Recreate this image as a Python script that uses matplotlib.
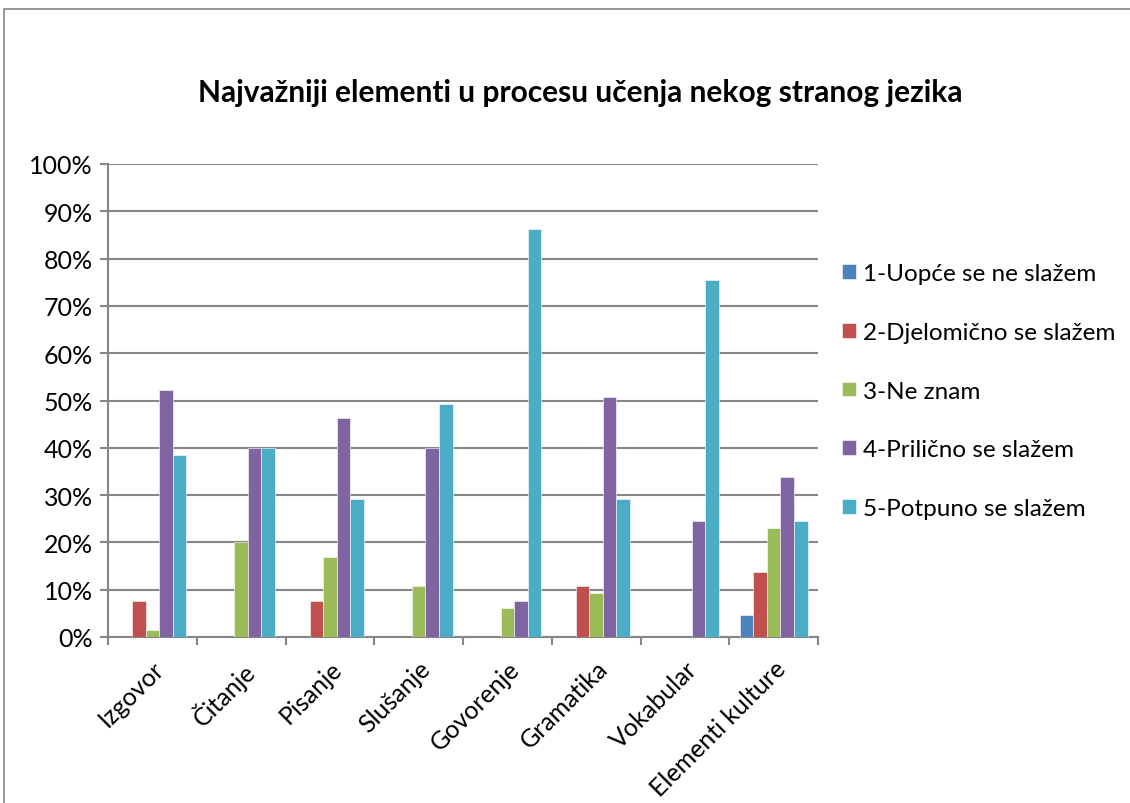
import matplotlib.pyplot as plt
from matplotlib.patches import Rectangle
import numpy as np

plt.rcParams['font.family'] = ['Lato', 'DejaVu Sans']

# Data (percent of respondents)
categories = ["Izgovor", "Čitanje", "Pisanje", "Slušanje", "Govorenje",
              "Gramatika", "Vokabular", "Elementi kulture"]
series_names = ["1-Uopće se ne slažem", "2-Djelomično se slažem", "3-Ne znam",
                "4-Prilično se slažem", "5-Potpuno se slažem"]
s1 = [0, 0, 0, 0, 0, 0, 0, 4.6]
s2 = [7.7, 0, 7.7, 0, 0, 10.8, 0, 13.8]
s3 = [1.5, 20.0, 16.9, 10.8, 6.2, 9.2, 0, 23.1]
s4 = [52.3, 40.0, 46.2, 40.0, 7.7, 50.8, 24.6, 33.8]
s5 = [38.5, 40.0, 29.2, 49.2, 86.2, 29.2, 75.4, 24.6]
series = [s1, s2, s3, s4, s5]
colors = ["#4F81BD", "#C0504D", "#9BBB59", "#8064A2", "#4BACC6"]

fig = plt.figure(figsize=(11.3, 8.04), dpi=100)
ax = fig.add_axes([108 / 1130, 1 - 638 / 804, 710 / 1130, 473 / 804])

# Outer chart border
fig.patches.append(Rectangle((4 / 1130, -0.05), 1.2, 1 - 10 / 804 + 0.05,
                             transform=fig.transFigure, fill=False,
                             edgecolor="#868686", linewidth=1.2))

x = np.arange(len(categories))
w = 0.153
for i, (vals, name, c) in enumerate(zip(series, series_names, colors)):
    ax.bar(x + (i - 2) * w, vals, width=w, color=c, label=name,
           edgecolor="white", linewidth=0.4, zorder=3)

ax.set_xlim(-0.5, len(categories) - 0.5)
ax.set_ylim(0, 100)
ax.set_yticks(np.arange(0, 101, 10))
ax.set_yticklabels([f"{v}%" for v in range(0, 101, 10)], fontsize=18)
ax.yaxis.grid(True, color="#868686", linewidth=1.5, zorder=0)

ax.set_xticks(np.arange(-0.5, len(categories), 1))
ax.set_xticklabels([])
ax.set_xticks(x, minor=True)
ax.set_xticklabels(categories, minor=True, rotation=45, ha="right",
                   rotation_mode="anchor", fontsize=18)
ax.tick_params(axis="x", which="minor", length=0, pad=14)
ax.tick_params(axis="x", which="major", length=6, color="#868686", width=1.5)
ax.tick_params(axis="y", length=6, color="#868686", width=1.5, pad=5)

for s in ["top", "right"]:
    ax.spines[s].set_visible(False)
for s in ["left", "bottom"]:
    ax.spines[s].set_color("#868686")
    ax.spines[s].set_linewidth(1.5)

fig.text(580 / 1130, 1 - 93 / 804, "Najvažniji elementi u procesu učenja nekog stranog jezika",
         ha="center", va="center", fontsize=21.5, fontweight="bold")

ax.legend(loc="center left", bbox_to_anchor=(1.0, 0.52), frameon=False,
          fontsize=17.5, handlelength=0.55, handleheight=0.55, handletextpad=0.3,
          labelspacing=1.55, borderaxespad=0.6)

fig.savefig("out.png", dpi=100)
